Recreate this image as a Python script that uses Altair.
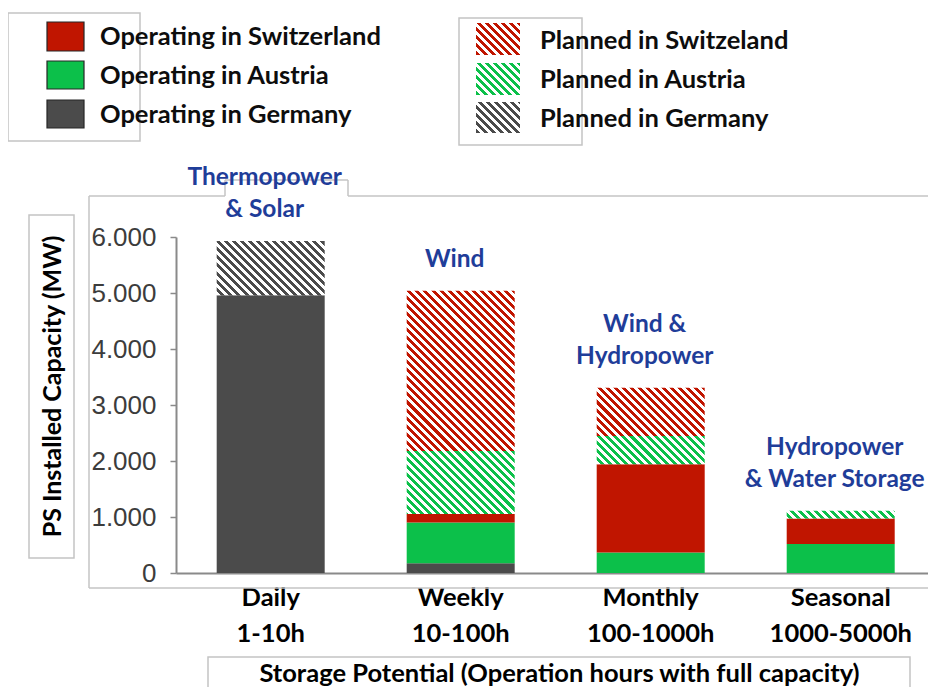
import math
import altair as alt

# ---------------- data ----------------
categories = ["Daily", "Weekly", "Monthly", "Seasonal"]
hours = ["1-10h", "10-100h", "100-1000h", "1000-5000h"]
annotations = ["Thermopower\n& Solar", "Wind", "Wind &\nHydropower", "Hydropower\n& Water Storage"]

op_germany = [4960, 175, 0, 0]
op_austria = [0, 725, 365, 520]
op_switzerland = [0, 155, 1575, 455]
pl_austria = [0, 1125, 505, 135]
pl_switzerland = [0, 2860, 865, 0]
pl_germany = [970, 0, 0, 0]

legend_operating = ["Operating in Switzerland", "Operating in Austria", "Operating in Germany"]
legend_planned = ["Planned in Switzeland", "Planned in Austria", "Planned in Germany"]

# ---------------- style ----------------
RED = "#c01500"
GREEN = "#0cc04a"
GRAY = "#4b4b4b"
BLUE = "#1f3d99"
FRAME = "#c4c4c4"
AXIS = "#8a8a8a"
FONT = "Lato"

W, H = 752, 336
YMAX = 6000
P_IN, P_OUT, ALIGN = 0.4316, 0.1947, 0.55
STEP = W / (4 - P_IN + 2 * P_OUT)
BW = STEP * (1 - P_IN)
S = H / YMAX


def hatch(color, w, h, phase=0.0, period=5.7, duty=0.5):
    D = (w + h) / math.sqrt(2)
    k = (w + h) / (w * w + h * h)
    stops = []
    m = math.floor(phase / period) - 1
    while m * period - phase < D + period:
        a = (m * period - phase) / D
        b = (m * period + duty * period - phase) / D
        a2, b2 = max(a, 0.0), min(b, 1.0)
        if b2 > a2:
            a2, b2 = round(a2, 4), round(b2, 4)
            stops += [{"offset": a2, "color": "#ffffff"}, {"offset": a2, "color": color},
                      {"offset": b2, "color": color}, {"offset": b2, "color": "#ffffff"}]
        m += 1
    if not stops:
        stops = [{"offset": 0, "color": "#ffffff"}]
    return {"gradient": "linear", "x1": 0, "y1": 1,
            "x2": round(w * k, 5), "y2": round(1 - h * k, 5), "stops": stops}


series = [
    ("Operating in Germany", op_germany, GRAY, False),
    ("Operating in Austria", op_austria, GREEN, False),
    ("Operating in Switzerland", op_switzerland, RED, False),
    ("Planned in Austria", pl_austria, GREEN, True),
    ("Planned in Switzeland", pl_switzerland, RED, True),
    ("Planned in Germany", pl_germany, GRAY, True),
]

keys = [f"{c}|{h}" for c, h in zip(categories, hours)]

rows = []
totals = []
for ci, key in enumerate(keys):
    bottom = 0
    for order, (name, vals, col, planned) in enumerate(series):
        v = vals[ci]
        if v <= 0:
            continue
        fillv = hatch(col, BW, v * S, phase=bottom * S / math.sqrt(2)) if planned else col
        rows.append({"key": key, "series": name, "value": v, "order": order, "fillv": fillv})
        bottom += v
    totals.append(bottom)

# split annotation into the line nearest the bar and the line above it
ann_low = [{"key": k, "label": a.split("\n")[-1], "total": t} for k, a, t in zip(keys, annotations, totals)]
ann_high = [{"key": k, "label": a.split("\n")[0], "total": t}
            for k, a, t in zip(keys, annotations, totals) if "\n" in a]

one = alt.Data(values=[{}])


def box(x, x2, y, y2, color=FRAME, width=1.5):
    return alt.Chart(one).mark_rect(fillOpacity=0, stroke=color, strokeWidth=width).encode(
        x=alt.value(x), x2=alt.value(x2), y=alt.value(y), y2=alt.value(y2))


def rule(x, x2, y, y2):
    return alt.Chart(one).mark_rule(color=FRAME, strokeWidth=1.5).encode(
        x=alt.value(x), x2=alt.value(x2), y=alt.value(y), y2=alt.value(y2))


def swatch(x, x2, y, y2, fill, stroke=None):
    kw = {"fill": fill}
    if stroke:
        kw.update(stroke=stroke, strokeWidth=1.2)
    return alt.Chart(one).mark_rect(**kw).encode(
        x=alt.value(x), x2=alt.value(x2), y=alt.value(y), y2=alt.value(y2))


def label(x, y, text):
    return alt.Chart(one).mark_text(align="left", baseline="middle", font=FONT, fontWeight="bold",
                                    fontSize=25.5, color="#0d0d0d").encode(
        x=alt.value(x), y=alt.value(y), text=alt.value(text))


layers = []
# frame around plot (with notch for the first annotation)
layers += [
    rule(-87, 49, -41, -41),
    rule(49, 49, -57, -41),
    rule(49, 172, -57, -57),
    rule(172, 172, -57, -41),
    rule(172, W + 20, -41, -41),
    rule(-87, -87, -41, 351),
    rule(-87, W + 20, 351, 351),
]
# boxes: legends, y title, x title
layers += [
    box(-168, -36, -224, -96),
    box(283, 406, -219, -92),
    box(-147, -102, -22, 321),
    box(32, 734, 420, 480),
]

xscale = alt.Scale(domain=keys, paddingInner=P_IN, paddingOuter=P_OUT, align=ALIGN)
xaxis = alt.Axis(
    title="Storage Potential (Operation hours with full capacity)",
    labelExpr="split(datum.label, '|')", labelAngle=0, ticks=False, labelPadding=12,
    labelLineHeight=36, labelFont=FONT, labelFontWeight="bold", labelFontSize=25.5,
    labelColor="#000000", domainColor=AXIS, domainWidth=2,
    titleFont=FONT, titleFontSize=25.5, titleFontWeight="bold", titleColor="#000000",
    titleX=383, titleY=108, titleAlign="center", titleBaseline="alphabetic",
)
yaxis = alt.Axis(
    title="PS Installed Capacity (MW)", values=[0, 1000, 2000, 3000, 4000, 5000, 6000],
    labelExpr="replace(format(datum.value, ','), ',', '.')", grid=False,
    tickSize=6, tickColor=AXIS, tickWidth=1.5, domainColor=AXIS, domainWidth=2,
    labelFont="Liberation Sans", labelFontSize=26, labelColor="#3c3c3c", labelPadding=14,
    titleFont=FONT, titleFontSize=25, titleFontWeight="bold", titleColor="#000000",
    titleX=-124, titleY=149, titleAngle=270, titleAlign="center", titleBaseline="middle",
)

bars = alt.Chart(alt.Data(values=rows)).transform_stack(
    stack="value", groupby=["key"], as_=["y0", "y1"],
    sort=[alt.SortField("order", order="ascending")],
).mark_bar().encode(
    x=alt.X("key:N", sort=keys, scale=xscale, axis=xaxis),
    y=alt.Y("y0:Q", scale=alt.Scale(domain=[0, YMAX], nice=False), axis=yaxis),
    y2="y1:Q",
    fill=alt.Fill("fillv:N", scale=None, legend=None),
)
layers.append(bars)

for data, dy in ((ann_low, -19), (ann_high, -51)):
    layers.append(alt.Chart(alt.Data(values=data)).mark_text(
        font=FONT, fontWeight="bold", fontSize=24.5, color=BLUE, baseline="bottom", align="center",
        dy=dy, dx=-6,
    ).encode(
        x=alt.X("key:N", sort=keys),
        y=alt.Y("total:Q"),
        text="label:N",
    ))

# legends
op_colors = [RED, GREEN, GRAY]
op_y = [(-215, -186), (-176, -148), (-137, -109)]
op_ty = [-200, -161, -122]
for lab, col, (y1, y2), ty in zip(legend_operating, op_colors, op_y, op_ty):
    layers.append(swatch(-129, -92, y1, y2, col, stroke="#262626"))
    layers.append(label(-76, ty, lab))

pl_colors = [RED, GREEN, GRAY]
pl_y = [(-214, -182), (-174, -142), (-135, -104)]
pl_ty = [-196, -157, -118]
for lab, col, (y1, y2), ty in zip(legend_planned, pl_colors, pl_y, pl_ty):
    layers.append(swatch(300, 344, y1, y2, hatch(col, 44, y2 - y1)))
    layers.append(label(364, ty, lab))

chart = alt.layer(*layers).properties(
    width=W, height=H,
    autosize=alt.AutoSizeParams(type="none"),
    padding={"left": 168, "top": 229, "right": 0, "bottom": 114},
    background="white",
).configure_view(strokeWidth=0)

chart.save("out.html", embed_options={"renderer": "svg", "actions": False})
